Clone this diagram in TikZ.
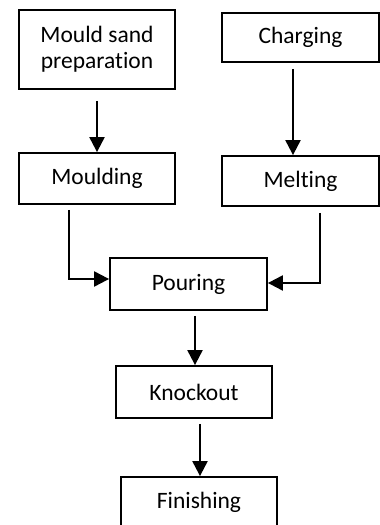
\documentclass[tikz,border=0pt]{standalone}
\usepackage{fontspec}
\setmainfont[Ligatures={NoCommon}]{Carlito}
\usetikzlibrary{arrows.meta}
\begin{document}
\begin{tikzpicture}[x=1pt,y=1pt,
  box/.style={draw=black, line width=1.8pt, inner sep=0pt, align=center,
    font=\fontsize{23.5}{26}\selectfont},
  arr/.style={draw=black, line width=2.1pt, -{Triangle[width=15pt,length=15pt]}}]
\clip (0,0) rectangle (380,525);
\fill[white] (0,0) rectangle (380,525);
\node[box, minimum width=156pt, minimum height=79pt] (msp) at (97,475.5) {Mould sand\\preparation};
\node[box, minimum width=157pt, minimum height=49pt] (chg) at (300.5,487.5) {Charging};
\node[box, minimum width=156pt, minimum height=51pt] (mld) at (97,346.5) {Moulding};
\node[box, minimum width=157pt, minimum height=50pt] (mlt) at (300.5,344) {Melting};
\node[box, minimum width=157pt, minimum height=52pt] (pour) at (188.5,241) {Pouring};
\node[box, minimum width=156pt, minimum height=52pt] (knock) at (194,133) {Knockout};
\node[box, minimum width=156pt, minimum height=51pt, text depth=0pt] (fin) at (199,22.5) {\raisebox{4pt}{Finishing}};
\draw[arr] ([yshift=-11pt]msp.south) -- (mld.north);
\draw[arr] ([xshift=-7.5pt,yshift=-6pt]chg.south) -- ([xshift=-7.5pt]mlt.north);
\draw[arr] ([xshift=-28pt,yshift=-5pt]mld.south) |- ([yshift=5pt]pour.west);
\draw[arr] ([xshift=19.5pt,yshift=-6pt]mlt.south) |- ([yshift=1pt]pour.east);
\draw[arr] ([xshift=6.5pt,yshift=-5pt]pour.south) -- ([xshift=1pt]knock.north);
\draw[arr] ([xshift=6pt,yshift=-5pt]knock.south) -- ([xshift=1pt]fin.north);
\end{tikzpicture}
\end{document}
